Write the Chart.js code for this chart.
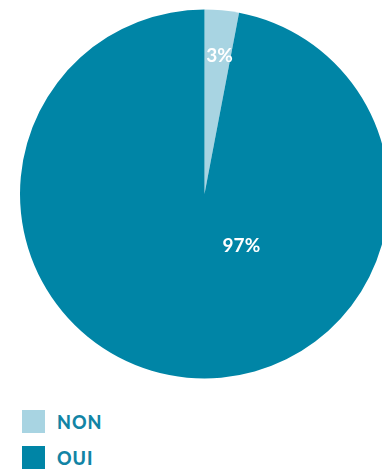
<!DOCTYPE html>
<html>
<head>
<meta charset="utf-8">
<script src="https://cdn.jsdelivr.net/npm/chart.js@4"></script>
<style>
	html, body {
		margin: 0;
		padding: 0;
		width: 382px;
		height: 473px;
		overflow: hidden;
		background: #ffffff;
		font-family: Lato, "Open Sans", sans-serif;
	}
	#wrap {
		position: absolute;
		left: 0;
		top: 0;
		width: 409px;
		height: 388px;
	}
	#legend {
		position: absolute;
		left: 22px;
		top: 410px;
	}
	.item {
		display: flex;
		align-items: center;
		height: 23px;
		margin-bottom: 13px;
	}
	.box {
		width: 23px;
		height: 23px;
		margin-right: 12px;
	}
	.lbl {
		font-weight: 900;
		font-size: 18px;
		letter-spacing: 1px;
		color: #1284a5;
	}
</style>
</head>
<body>
<div id="wrap"><canvas id="chart"></canvas></div>
<div id="legend"></div>
<script>
	const labels = ["NON", "OUI"];
	const values = [3, 97];
	const valueText = ["3%", "97%"];
	const colors = ["#a8d4e2", "#0085a6"];

	// étiquettes blanches sur les parts
	const sliceLabels = {
		id: "sliceLabels",
		afterDatasetsDraw(chart) {
			const ctx = chart.ctx;
			const arcs = chart.getDatasetMeta(0).data;
			ctx.save();
			ctx.fillStyle = "#ffffff";
			ctx.font = "bold 19px Lato";
			ctx.textAlign = "center";
			ctx.textBaseline = "middle";
			arcs.forEach((arc, i) => {
				const r = arc.outerRadius;
				let x, y;
				if (arc.circumference < Math.PI) {
					const mid = (arc.startAngle + arc.endAngle) / 2;
					x = arc.x + Math.cos(mid) * r * 0.75 + 2;
					y = arc.y + Math.sin(mid) * r * 0.75;
				} else {
					x = arc.x + r * 0.2;
					y = arc.y + r * 0.28;
				}
				ctx.fillText(valueText[i], x, y);
			});
			ctx.restore();
		},
	};

	new Chart(document.getElementById("chart"), {
		type: "pie",
		data: {
			labels: labels,
			datasets: [
				{
					data: values,
					backgroundColor: colors,
					borderWidth: 0,
				},
			],
		},
		options: {
			responsive: true,
			maintainAspectRatio: false,
			animation: false,
			layout: {
				padding: { left: 20, right: 20, top: 9.5, bottom: 9.5 },
			},
			plugins: {
				legend: { display: false },
				tooltip: { enabled: false },
			},
		},
		plugins: [sliceLabels],
	});

	const legend = document.getElementById("legend");
	labels.forEach((label, i) => {
		const item = document.createElement("div");
		item.className = "item";
		const box = document.createElement("div");
		box.className = "box";
		box.style.background = colors[i];
		const txt = document.createElement("span");
		txt.className = "lbl";
		txt.textContent = label;
		item.appendChild(box);
		item.appendChild(txt);
		legend.appendChild(item);
	});
</script>
</body>
</html>
